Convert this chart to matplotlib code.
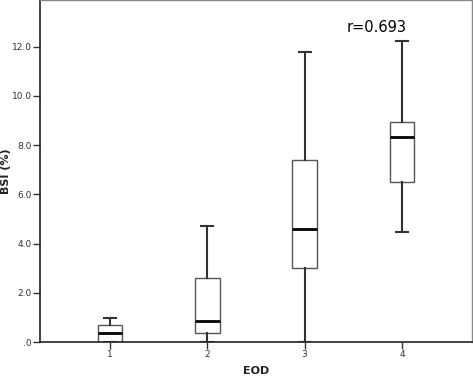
import matplotlib
matplotlib.use("Agg")
import matplotlib.pyplot as plt

groups = ["1", "2", "3", "4"]
whislo = [0.0, 0.0, 0.0, 4.47]
q1 = [0.0, 0.35, 3.0, 6.5]
med = [0.35, 0.85, 4.6, 8.34]
q3 = [0.69, 2.59, 7.38, 8.96]
whishi = [0.98, 4.72, 11.77, 12.22]
yticks = [0, 2, 4, 6, 8, 10, 12]
ytick_labels = [".0", "2.0", "4.0", "6.0", "8.0", "10.0", "12.0"]

stats = []
for i in range(len(groups)):
    stats.append(dict(label=groups[i], whislo=whislo[i], q1=q1[i], med=med[i],
                      q3=q3[i], whishi=whishi[i], fliers=[]))

fig = plt.figure(figsize=(4.73, 3.76), dpi=100)
ax = fig.add_axes([40 / 473, 34 / 376, 432 / 473, 342 / 376])

ax.bxp(stats, positions=[1, 2, 3, 4], widths=0.25, showfliers=False,
       capwidths=0.125, patch_artist=True,
       boxprops=dict(facecolor="white", edgecolor="#555555", linewidth=1.0),
       whiskerprops=dict(color="#333333", linewidth=1.5),
       capprops=dict(color="#333333", linewidth=1.5),
       medianprops=dict(color="black", linewidth=2.0))

ax.set_xlim(0.28, 4.72)
ax.set_ylim(0, 13.9)
ax.set_yticks(yticks)
ax.set_yticklabels(ytick_labels)
ax.tick_params(labelsize=6.5, colors="#333333", length=5, width=1, pad=1)
for lbl in ax.get_xticklabels() + ax.get_yticklabels():
    lbl.set_color("#333333")

for s in ["top", "right"]:
    ax.spines[s].set_color("#888888")
    ax.spines[s].set_linewidth(1.0)
for s in ["left", "bottom"]:
    ax.spines[s].set_color("#222222")
    ax.spines[s].set_linewidth(1.2)

ax.set_xlabel("EOD", fontsize=8, fontweight="bold", color="#222222", va="center")
ax.set_ylabel("BSI (%)", fontsize=8, fontweight="bold", color="#222222", va="center")
ax.xaxis.set_label_coords(0.5, -29 / 342)
ax.yaxis.set_label_coords(-34 / 432, 0.5)

ax.text(3.74, 12.8, "r=0.693", fontsize=10.5, ha="center", va="center")

fig.savefig("out.png", dpi=100)
